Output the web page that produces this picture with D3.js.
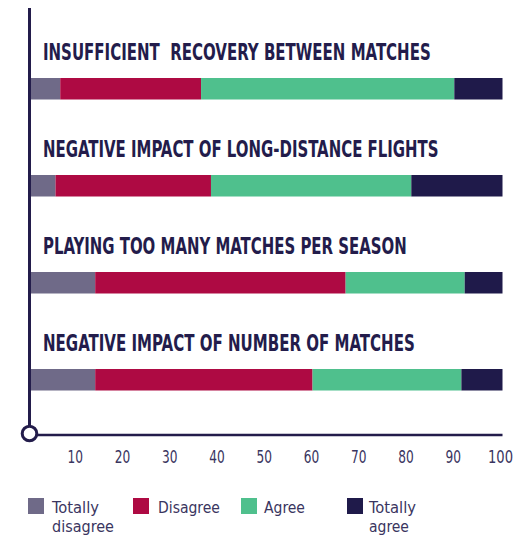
<!DOCTYPE html>
<html><head><meta charset="utf-8">
<script src="https://cdn.jsdelivr.net/npm/d3@7/dist/d3.min.js"></script>
<style>
html,body{margin:0;padding:0;background:#fff;}
svg{display:block;}
</style></head>
<body>
<script>
const categories = [
  "INSUFFICIENT  RECOVERY BETWEEN MATCHES",
  "NEGATIVE IMPACT OF LONG-DISTANCE FLIGHTS",
  "PLAYING TOO MANY MATCHES PER SEASON",
  "NEGATIVE IMPACT OF NUMBER OF MATCHES"
];
const seriesNames = ["Totally disagree", "Disagree", "Agree", "Totally agree"];
const totallyDisagree = [6.4, 5.4, 13.8, 13.8];
const disagree = [29.8, 32.9, 53.0, 46.0];
const agree = [53.6, 42.4, 25.2, 31.5];
const totallyAgree = [10.2, 19.3, 8.0, 8.7];
const tickValues = [10, 20, 30, 40, 50, 60, 70, 80, 90, 100];
const legendLines = [["Totally", "disagree"], ["Disagree"], ["Agree"], ["Totally", "agree"]];

const colors = ["#6f6a88", "#ae0a43", "#4fc08d", "#1f1a4a"];
const titleWidths = [388, 396, 364, 372];
const legendWidths = [[47, 62], [62], [41], [47, 40]];
const FONT = "'DejaVu Sans Condensed',Roboto,sans-serif";

const W = 516, H = 536;
const svg = d3.select("body").append("svg").attr("width", W).attr("height", H);

function fitWidth(sel, target, ax, ay) {
  sel.each(function(d, i) {
    const w = this.getComputedTextLength();
    const t = typeof target === "function" ? target(d, i) : target;
    const s = w > 0 ? t / w : 1;
    const a = typeof ax === "function" ? ax(d, i) : ax;
    const b = typeof ay === "function" ? ay(d, i) : ay;
    d3.select(this).attr("transform", `translate(${a},${b}) scale(${s},1) translate(${-a},${-b})`);
  });
}

const x = d3.scaleLinear().domain([0, 100]).range([30, 502.5]);
const y = d3.scaleBand().domain(d3.range(categories.length)).range([51, 51 + 97 * 4]);

const rows = categories.map((c, i) => {
  const vals = [totallyDisagree[i], disagree[i], agree[i], totallyAgree[i]];
  let acc = 0;
  return vals.map((v, k) => { const s = acc; acc += v; return {i, k, x0: s, x1: acc}; });
});
const total = rows.map(r => r[r.length - 1].x1);

const titles = svg.selectAll("text.title").data(categories).join("text")
  .attr("class", "title")
  .attr("x", 43)
  .attr("y", (d, i) => y(i) + 9)
  .attr("font-family", FONT)
  .attr("font-weight", "bold")
  .attr("font-size", 23)
  .attr("fill", "#231c4b")
  .style("white-space", "pre")
  .text(d => d);
fitWidth(titles, (d, i) => titleWidths[i], 43, (d, i) => y(i) + 9);

rows.forEach((r, i) => {
  const sc = 100 / total[i];
  svg.selectAll(null).data(r).join("rect")
    .attr("x", d => x(d.x0 * sc))
    .attr("width", d => x(d.x1 * sc) - x(d.x0 * sc))
    .attr("y", y(i) + 27)
    .attr("height", 21.5)
    .attr("fill", d => colors[d.k]);
});

svg.append("line").attr("x1", 29.5).attr("x2", 29.5).attr("y1", 8).attr("y2", 426)
  .attr("stroke", "#231c4b").attr("stroke-width", 3);
svg.append("line").attr("x1", 36).attr("x2", 502.5).attr("y1", 435).attr("y2", 435)
  .attr("stroke", "#231c4b").attr("stroke-width", 2.5);
svg.append("circle").attr("cx", 29.5).attr("cy", 433.5).attr("r", 7.3)
  .attr("fill", "#fff").attr("stroke", "#231c4b").attr("stroke-width", 3);

const axis = d3.axisBottom(x).tickValues(tickValues).tickSize(0).tickPadding(0);
const ag = svg.append("g").attr("transform", "translate(-2.5,463)").call(axis);
ag.select(".domain").remove();
const tl = ag.selectAll("text")
  .attr("dy", 0)
  .attr("y", 0)
  .attr("font-family", FONT)
  .attr("font-size", 18)
  .attr("fill", "#3a3560");
fitWidth(tl, d => d >= 100 ? 25 : 15.5, 0, 0);

const legX = [28, 133, 241, 347];
const legTx = [24, 25, 23, 22];
const lg = svg.selectAll("g.leg").data(seriesNames).join("g").attr("class", "leg")
  .attr("transform", (d, i) => `translate(${legX[i]},498)`);
lg.append("rect").attr("width", 16).attr("height", 16).attr("fill", (d, i) => colors[i]);
lg.each(function(d, i) {
  const g = d3.select(this);
  legendLines[i].forEach((ln, j) => {
    const yy = 15 + j * 19.5;
    const t = g.append("text")
      .attr("x", legTx[i])
      .attr("y", yy)
      .attr("font-family", FONT)
      .attr("font-size", 16.5)
      .attr("fill", "#3a3560")
      .text(ln);
    fitWidth(t, legendWidths[i][j], legTx[i], yy);
  });
});
</script>
</body></html>
